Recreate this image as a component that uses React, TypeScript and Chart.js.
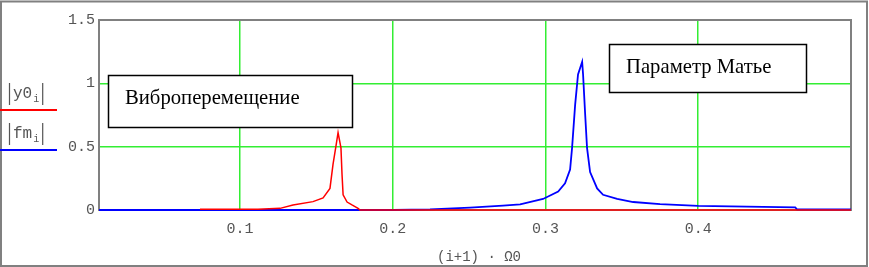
import React, { useEffect, useRef } from 'react';
import { Chart, registerables } from 'chart.js';

Chart.register(...registerables);

// ---- data ----
const xTickValues = [0.1, 0.2, 0.3, 0.4];
const yTickValues = [0, 0.5, 1, 1.5];
const xMin = 0.0077;
const xMax = 0.5;

// |y0_i| (red) — vibration displacement
const y0X = [0.0738, 0.1118, 0.1262, 0.1347, 0.1478, 0.1544, 0.1589, 0.1609, 0.1629, 0.1642, 0.1661, 0.1668, 0.1675, 0.1701, 0.1733, 0.1773, 0.1786, 0.225, 0.26, 0.5];
const y0Y = [0.006, 0.006, 0.013, 0.04, 0.066, 0.095, 0.17, 0.36, 0.51, 0.61, 0.49, 0.28, 0.12, 0.063, 0.04, 0.013, 0.0, 0.0, 0.0, 0.0];

// |fm_i| (blue) — Mathieu parameter
const fmX = [0.0077, 0.1, 0.2, 0.2244, 0.2506, 0.2722, 0.2834, 0.2984, 0.3083, 0.3128, 0.3161, 0.3174, 0.3194, 0.3213, 0.324, 0.3246, 0.3259, 0.3272, 0.3292, 0.3338, 0.3377, 0.3469, 0.3574, 0.375, 0.4, 0.4635, 0.4648, 0.5];
const fmY = [0.0, 0.0, 0.0, 0.005, 0.018, 0.034, 0.045, 0.087, 0.145, 0.21, 0.32, 0.49, 0.83, 1.07, 1.17, 1.07, 0.77, 0.49, 0.30, 0.17, 0.12, 0.087, 0.063, 0.047, 0.032, 0.021, 0.004, 0.004];

const seriesNames = ['y0', 'fm'];
const notes = ['Виброперемещение', 'Параметр Матье'];
const xTitle = '(i+1) · Ω0';

const MONO = "'Liberation Mono', 'Courier New', monospace";
const SERIF = "'Liberation Serif', 'Times New Roman', serif";
const TEXT_GRAY = '#555555';

const decorations = {
  id: 'decorations',
  beforeDatasetsDraw(chart: any) {
    const ctx = chart.ctx as CanvasRenderingContext2D;
    const a = chart.chartArea;
    ctx.save();
    ctx.strokeStyle = '#808080';
    ctx.lineWidth = 2;
    ctx.strokeRect(a.left, a.top, a.right - a.left, a.bottom - a.top);
    ctx.restore();
  },
  afterDraw(chart: any) {
    const ctx = chart.ctx as CanvasRenderingContext2D;
    ctx.save();
    // outer frame
    ctx.strokeStyle = '#808080';
    ctx.lineWidth = 2;
    ctx.strokeRect(1, 1.5, 866, 264.5);

    // legend
    const legendItems = [
      { name: seriesNames[0], color: '#ff0000', textY: 94, lineY: 110 },
      { name: seriesNames[1], color: '#0000ff', textY: 134, lineY: 150 },
    ];
    for (const it of legendItems) {
      ctx.fillStyle = TEXT_GRAY;
      ctx.strokeStyle = TEXT_GRAY;
      ctx.lineWidth = 1.2;
      ctx.font = `16px ${MONO}`;
      ctx.textBaseline = 'middle';
      ctx.textAlign = 'left';
      const x0 = 13;
      ctx.fillText(it.name, x0, it.textY);
      const w = ctx.measureText(it.name).width;
      ctx.font = `10px ${MONO}`;
      ctx.fillText('i', x0 + w + 1, it.textY + 5);
      const w2 = ctx.measureText('i').width;
      const rightBar = x0 + w + w2 + 4;
      ctx.beginPath();
      ctx.moveTo(9.5, it.textY - 11);
      ctx.lineTo(9.5, it.textY + 11);
      ctx.moveTo(rightBar + 0.5, it.textY - 11);
      ctx.lineTo(rightBar + 0.5, it.textY + 11);
      ctx.stroke();
      ctx.strokeStyle = it.color;
      ctx.lineWidth = 2;
      ctx.beginPath();
      ctx.moveTo(0, it.lineY);
      ctx.lineTo(57, it.lineY);
      ctx.stroke();
    }

    // annotation boxes
    const boxes = [
      { text: notes[0], x: 108, y: 75, w: 244, h: 52, tx: 125, ty: 99 },
      { text: notes[1], x: 609, y: 44, w: 197, h: 48, tx: 626, ty: 68 },
    ];
    for (const b of boxes) {
      ctx.fillStyle = '#ffffff';
      ctx.fillRect(b.x, b.y, b.w, b.h);
      ctx.strokeStyle = '#000000';
      ctx.lineWidth = 1.5;
      ctx.strokeRect(b.x + 0.5, b.y + 0.5, b.w, b.h);
      ctx.fillStyle = '#000000';
      ctx.font = `20.7px ${SERIF}`;
      ctx.textBaseline = 'middle';
      ctx.textAlign = 'left';
      ctx.fillText(b.text, b.tx, b.ty);
    }

    // x title
    ctx.fillStyle = TEXT_GRAY;
    ctx.font = `14px ${MONO}`;
    ctx.textAlign = 'center';
    ctx.textBaseline = 'middle';
    ctx.fillText(xTitle, 479, 257);
    ctx.restore();
  },
};

export default function App() {
  const ref = useRef<HTMLCanvasElement | null>(null);
  useEffect(() => {
    if (!ref.current) return;
    const chart = new Chart(ref.current, {
      type: 'line',
      data: {
        datasets: [
          {
            label: '|y0_i|',
            data: y0X.map((x, i) => ({ x, y: y0Y[i] })),
            borderColor: '#ff0000',
            borderWidth: 1.5,
            pointRadius: 0,
            tension: 0,
            fill: false,
            clip: 4,
          },
          {
            label: '|fm_i|',
            data: fmX.map((x, i) => ({ x, y: fmY[i] })),
            borderColor: '#0000ff',
            borderWidth: 1.8,
            pointRadius: 0,
            tension: 0,
            fill: false,
            clip: 4,
          },
        ],
      },
      options: {
        responsive: false,
        animation: false,
        events: [],
        layout: { padding: { left: 0, top: 20, right: 18, bottom: 0 } },
        plugins: { legend: { display: false }, tooltip: { enabled: false }, title: { display: false } },
        scales: {
          x: {
            type: 'linear',
            min: xMin,
            max: xMax,
            afterBuildTicks: (s: any) => {
              s.ticks = xTickValues.map((v) => ({ value: v }));
            },
            afterFit: (s: any) => {
              s.height = 57;
            },
            border: { display: false },
            grid: { color: '#33ee33', lineWidth: 1.5, drawTicks: false },
            ticks: {
              padding: 10,
              color: TEXT_GRAY,
              font: { family: MONO, size: 15 },
              maxRotation: 0,
              callback: (v: any) => String(v),
            },
          },
          y: {
            type: 'linear',
            min: 0,
            max: 1.5,
            afterBuildTicks: (s: any) => {
              s.ticks = yTickValues.map((v) => ({ value: v }));
            },
            afterFit: (s: any) => {
              s.width = 99;
            },
            border: { display: false },
            grid: { color: '#33ee33', lineWidth: 1.5, drawTicks: false },
            ticks: {
              padding: 4,
              color: TEXT_GRAY,
              font: { family: MONO, size: 15 },
              callback: (v: any) => String(v),
            },
          },
        },
      },
      plugins: [decorations],
    } as any);
    return () => chart.destroy();
  }, []);
  return (
    <div style={{ position: 'absolute', left: 0, top: 0, width: 869, height: 267, background: '#ffffff' }}>
      <canvas ref={ref} width={869} height={267} style={{ display: 'block' }} />
    </div>
  );
}
